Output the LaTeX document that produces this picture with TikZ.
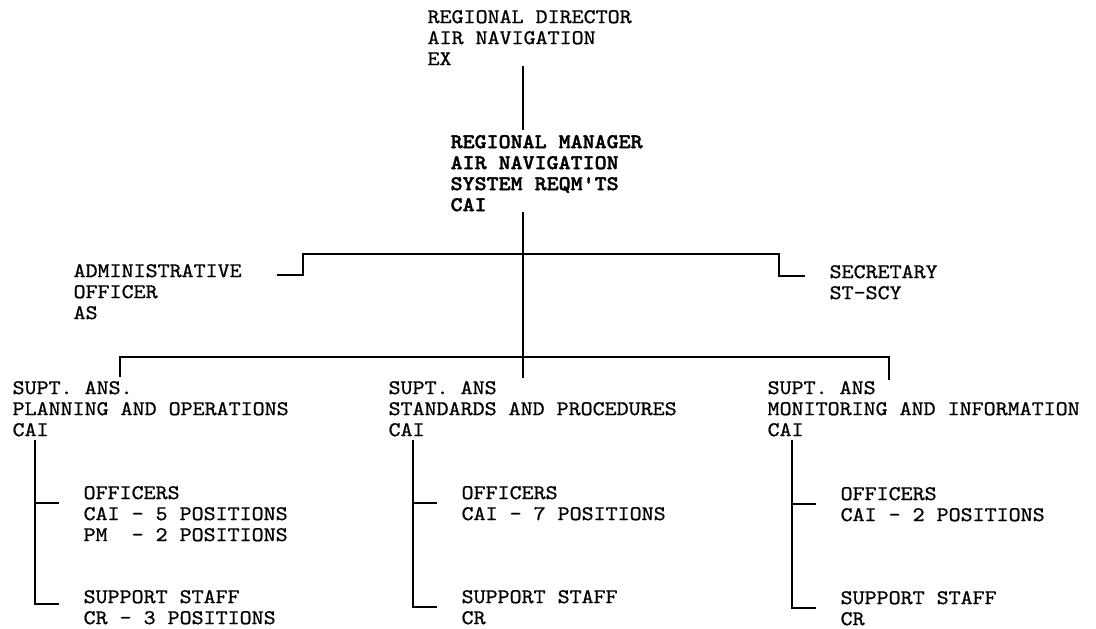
\documentclass[tikz,border=0pt]{standalone}
\usepackage{fontspec}
\setmonofont{lmmono10-regular.otf}[BoldFont=lmmonolt10-bold.otf, FakeStretch=1.094,
    UprightFeatures={FakeBold=0.8}, BoldFeatures={FakeBold=1.6}]

\tikzset{
    orgtxt/.style={anchor=north west, inner sep=0pt, align=left,
        font=\ttfamily\fontsize{20.9}{21}\selectfont},
    orgbold/.style={font=\ttfamily\bfseries\fontsize{20.9}{21}\selectfont},
    orgline/.style={line width=1.2pt},
}
\newcommand\orgunit[5][]{\node[orgtxt,#1] (#2) at (#3,#4) {#5}; }
\newcommand\stafftree[4]{
    \coordinate (#1top) at (#2,440);
    \coordinate (#1off) at (#2,#3);
    \coordinate (#1sup) at (#2,#4);
    \draw (#1top) -- (#1sup) -- ++(24,0);
    \draw (#1off) -- ++(24,0);
}

\begin{document}
\begin{tikzpicture}[x=1pt, y=-1pt, orgline]
    \useasboundingbox (0,0) rectangle (1096,629);

    % head and manager
    \orgunit{dir}{427}{9.5}{REGIONAL DIRECTOR\\AIR NAVIGATION\\EX}
    \orgunit[orgbold]{mgr}{450}{134.5}{REGIONAL MANAGER\\AIR NAVIGATION\\SYSTEM REQM'TS\\CAI}

    % staff beside the manager
    \orgunit{adm}{73}{263.5}{ADMINISTRATIVE\\OFFICER\\AS}
    \orgunit{sec}{829}{264.5}{SECRETARY\\ST-SCY}

    % the three superintendents
    \orgunit{suptA}{12}{380.5}{SUPT. ANS.\\PLANNING AND OPERATIONS\\CAI}
    \orgunit{suptB}{388}{380.5}{SUPT. ANS\\STANDARDS AND PROCEDURES\\CAI}
    \orgunit{suptC}{767}{380.5}{SUPT. ANS\\MONITORING AND INFORMATION\\CAI}

    % officers and support staff
    \orgunit{offA}{83}{485.5}{OFFICERS\\CAI - 5 POSITIONS\\PM\phantom{I} - 2 POSITIONS}
    \orgunit{offB}{461}{485.5}{OFFICERS\\CAI - 7 POSITIONS}
    \orgunit{offC}{840}{486.5}{OFFICERS\\CAI - 2 POSITIONS}
    \orgunit{stfA}{83}{589.5}{SUPPORT STAFF\\CR - 3 POSITIONS}
    \orgunit{stfB}{461}{589.5}{SUPPORT STAFF\\CR}
    \orgunit{stfC}{840}{590.5}{SUPPORT STAFF\\CR}

    % director to manager
    \coordinate (spineA) at (523,66);
    \coordinate (spineB) at (523,130);
    \draw (spineA) -- (spineB);

    % manager down to the bars
    \coordinate (spineC) at (523,212);
    \coordinate (spineD) at (523,378);
    \draw (spineC) -- (spineD);

    % upper bar to admin officer and secretary
    \coordinate (barL) at (303,254);
    \coordinate (barR) at (779,254);
    \coordinate (admFoot) at (277,275);
    \coordinate (secFoot) at (805,276);
    \draw (admFoot) -| (barL) -- (barR) |- (secFoot);

    % lower bar to the superintendents
    \coordinate (lowL) at (120,357);
    \coordinate (lowR) at (889,357);
    \coordinate (dropL) at (120,377);
    \coordinate (dropR) at (889,380);
    \draw (dropL) -- (lowL) -- (lowR) -- (dropR);

    % superintendents to their staff
    \stafftree{A}{35}{503}{604}
    \stafftree{B}{413}{503}{607}
    \stafftree{C}{792}{504}{608}
\end{tikzpicture}
\end{document}
